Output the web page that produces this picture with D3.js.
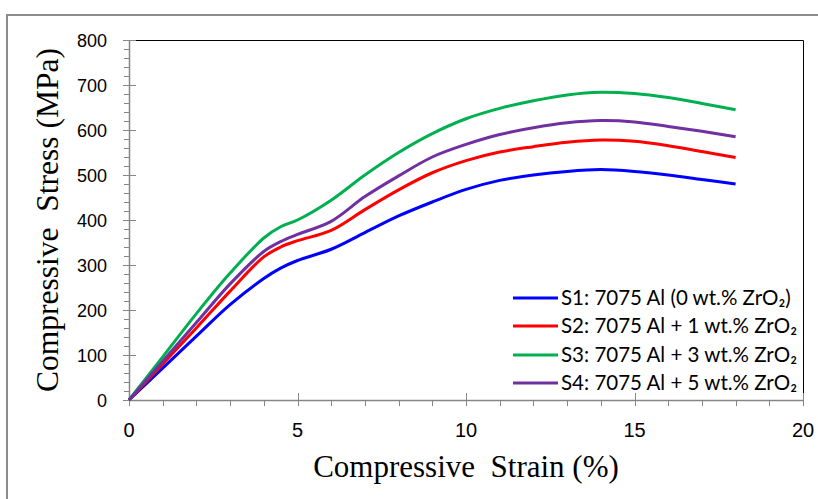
<!DOCTYPE html>
<html>
<head>
    <title>Compressive Stress-Strain</title>
</head>
<body style="margin:0;background:#fff;">
<script type="text/javascript" src="https://cdnjs.cloudflare.com/ajax/libs/d3/7.8.5/d3.min.js"></script>
<svg id="renderer" width="818" height="499"></svg>

<script type="text/javascript">
    // 1. data
    var strain = [0, 1, 2, 3, 4, 4.5, 5, 6, 7, 8, 9, 10, 11, 12, 13, 14, 15, 16, 17, 18];
    var s1 = [0, 71, 142, 212, 270, 293, 310, 335, 372, 409, 440, 468, 488, 500, 508, 512, 508, 500, 490, 480];
    var s2 = [0, 80, 160, 242, 318, 340, 354, 377, 423, 467, 505, 532, 551, 563, 573, 578, 575, 565, 552, 539];
    var s3 = [0, 96, 192, 282, 360, 385, 400, 444, 500, 550, 592, 625, 648, 665, 678, 684, 681, 672, 659, 645];
    var s4 = [0, 86, 172, 258, 330, 352, 368, 397, 452, 498, 540, 568, 590, 605, 616, 621, 618, 608, 597, 585];
    var seriesNames = ['S1: 7075 Al (0 wt.% ZrO₂)', 'S2: 7075 Al + 1 wt.% ZrO₂',
                       'S3: 7075 Al + 3 wt.% ZrO₂', 'S4: 7075 Al + 5 wt.% ZrO₂'];
    var seriesColors = ['#0000ff', '#ff0000', '#00b050', '#7030a0'];
    var xTicks = [0, 5, 10, 15, 20];
    var yTicks = [0, 100, 200, 300, 400, 500, 600, 700, 800];

    var series = [s1, s2, s3, s4];

    // 2. layout
    var root = d3.select('#renderer');
    var plotLeft = 129, plotRight = 803, plotTop = 40, plotBottom = 400;

    var x = d3.scaleLinear().domain([0, 20]).range([plotLeft, plotRight]);
    var y = d3.scaleLinear().domain([0, 800]).range([plotBottom, plotTop]);

    var axisColor = '#868686';
    var tickFont = '"Liberation Sans", Arial, sans-serif';
    var titleFont = '"Liberation Serif", "Times New Roman", serif';

    // outer frame
    root.append('rect')
        .attr('x', 7).attr('y', 15)
        .attr('width', 830).attr('height', 500)
        .attr('fill', 'none')
        .attr('stroke', '#8c8c8c')
        .attr('stroke-width', 2);

    // plot border (top + right)
    root.append('path')
        .attr('d', 'M' + plotLeft + ',' + (plotTop + 0.5) + 'H' + (plotRight + 0.5) + 'V' + plotBottom)
        .attr('fill', 'none')
        .attr('stroke', '#000')
        .attr('stroke-width', 1);

    // minor ticks
    var yMinor = d3.range(0, 801, 20);
    root.selectAll('.ymin').data(yMinor).enter().append('line')
        .attr('x1', plotLeft - 5).attr('x2', plotLeft)
        .attr('y1', function(d) { return Math.round(y(d)) + 0.5; })
        .attr('y2', function(d) { return Math.round(y(d)) + 0.5; })
        .attr('stroke', axisColor);
    var xMinor = d3.range(0, 21, 1);
    root.selectAll('.xmin').data(xMinor).enter().append('line')
        .attr('x1', function(d) { return Math.round(x(d)) + 0.5; })
        .attr('x2', function(d) { return Math.round(x(d)) + 0.5; })
        .attr('y1', plotBottom).attr('y2', plotBottom + 6)
        .attr('stroke', axisColor);

    // major ticks (cross the axis)
    root.selectAll('.ymaj').data(yTicks).enter().append('line')
        .attr('x1', plotLeft - 6).attr('x2', plotLeft + 7)
        .attr('y1', function(d) { return Math.round(y(d)) + 0.5; })
        .attr('y2', function(d) { return Math.round(y(d)) + 0.5; })
        .attr('stroke', axisColor);
    root.selectAll('.xmaj').data(xTicks).enter().append('line')
        .attr('x1', function(d) { return Math.round(x(d)) + 0.5; })
        .attr('x2', function(d) { return Math.round(x(d)) + 0.5; })
        .attr('y1', plotBottom - 7).attr('y2', plotBottom + 6)
        .attr('stroke', axisColor);

    // axis lines
    root.append('line')
        .attr('x1', plotLeft + 0.5).attr('x2', plotLeft + 0.5)
        .attr('y1', plotTop).attr('y2', plotBottom)
        .attr('stroke', axisColor).attr('stroke-width', 1.5);
    root.append('line')
        .attr('x1', plotLeft).attr('x2', plotRight)
        .attr('y1', plotBottom + 0.5).attr('y2', plotBottom + 0.5)
        .attr('stroke', axisColor).attr('stroke-width', 1.5);

    // tick labels
    root.selectAll('.ylab').data(yTicks).enter().append('text')
        .attr('x', 107)
        .attr('y', function(d) { return y(d) + 6.5; })
        .attr('text-anchor', 'end')
        .attr('font-family', tickFont)
        .attr('font-size', 18)
        .attr('fill', '#000')
        .text(function(d) { return d; });
    root.selectAll('.xlab').data(xTicks).enter().append('text')
        .attr('x', function(d) { return x(d); })
        .attr('y', 437)
        .attr('text-anchor', 'middle')
        .attr('font-family', tickFont)
        .attr('font-size', 20)
        .attr('fill', '#000')
        .text(function(d) { return d; });

    // axis titles
    root.append('text')
        .attr('x', 466).attr('y', 477)
        .attr('text-anchor', 'middle')
        .attr('font-family', titleFont)
        .attr('font-size', 31)
        .style('white-space', 'pre')
        .text('Compressive  Strain (%)');
    root.append('text')
        .attr('transform', 'translate(58,220) rotate(-90)')
        .attr('text-anchor', 'middle')
        .attr('font-family', titleFont)
        .attr('font-size', 31.5)
        .style('white-space', 'pre')
        .text('Compressive  Stress (MPa)');

    // curves
    var line = d3.line()
        .x(function(d, i) { return x(strain[i]); })
        .y(function(d) { return y(d); })
        .curve(d3.curveCatmullRom.alpha(0.5));

    series.forEach(function(s, k) {
        root.append('path')
            .attr('d', line(s))
            .attr('fill', 'none')
            .attr('stroke', seriesColors[k])
            .attr('stroke-width', 3)
            .attr('stroke-linejoin', 'round');
    });

    // legend
    var legendY = [298, 326, 355, 383];
    seriesNames.forEach(function(name, k) {
        root.append('line')
            .attr('x1', 513).attr('x2', 558)
            .attr('y1', legendY[k]).attr('y2', legendY[k])
            .attr('stroke', seriesColors[k])
            .attr('stroke-width', 3);
        root.append('text')
            .attr('x', 561).attr('y', legendY[k] + 7)
            .attr('font-family', 'Lato, "Open Sans", sans-serif')
            .attr('font-size', 20.5)
            .attr('fill', '#000')
            .text(name);
    });
</script>
</body>
</html>
